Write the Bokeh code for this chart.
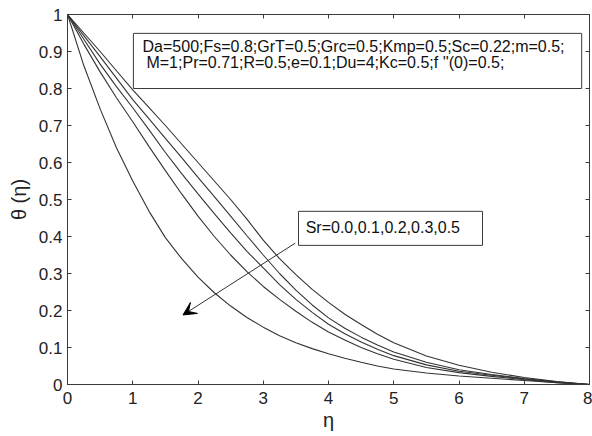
from bokeh.plotting import figure
from bokeh.models import (LinearAxis, FixedTicker, CustomJSTickFormatter, Range1d,
                          Label, BoxAnnotation, Arrow, VeeHead)
from bokeh.embed import file_html
from bokeh.resources import INLINE

# ---- data ----
eta = [0, 0.25, 0.5, 0.75, 1, 1.25, 1.5, 1.75, 2, 2.25, 2.5, 2.75, 3, 3.25, 3.5, 3.75,
       4, 4.25, 4.5, 4.75, 5, 5.5, 6, 6.5, 7, 7.5, 8]
sr_values = [0.0, 0.1, 0.2, 0.3, 0.5]
theta_sr00 = [1.0, 0.95, 0.90, 0.848, 0.796, 0.748, 0.70, 0.65, 0.60, 0.55, 0.50, 0.447, 0.39, 0.34, 0.297, 0.257,
              0.222, 0.19, 0.162, 0.136, 0.113, 0.077, 0.052, 0.033, 0.019, 0.008, 0.0]
theta_sr01 = [1.0, 0.943, 0.886, 0.828, 0.77, 0.718, 0.665, 0.613, 0.56, 0.508, 0.455, 0.402, 0.35, 0.30, 0.255, 0.215,
              0.18, 0.152, 0.128, 0.107, 0.088, 0.060, 0.040, 0.027, 0.016, 0.007, 0.0]
theta_sr02 = [1.0, 0.933, 0.866, 0.805, 0.748, 0.688, 0.627, 0.57, 0.515, 0.462, 0.41, 0.36, 0.315, 0.27, 0.23, 0.195,
              0.163, 0.137, 0.115, 0.095, 0.078, 0.053, 0.036, 0.025, 0.015, 0.006, 0.0]
theta_sr03 = [1.0, 0.92, 0.845, 0.775, 0.71, 0.643, 0.578, 0.515, 0.455, 0.40, 0.35, 0.305, 0.265, 0.23, 0.198, 0.168,
              0.142, 0.12, 0.100, 0.083, 0.068, 0.046, 0.032, 0.022, 0.013, 0.005, 0.0]
theta_sr05 = [1.0, 0.862, 0.745, 0.64, 0.55, 0.468, 0.397, 0.34, 0.29, 0.248, 0.212, 0.181, 0.155, 0.132, 0.113, 0.097,
              0.083, 0.071, 0.060, 0.050, 0.042, 0.031, 0.023, 0.017, 0.011, 0.005, 0.0]
series = [theta_sr00, theta_sr01, theta_sr02, theta_sr03, theta_sr05]

x_ticks = [0, 1, 2, 3, 4, 5, 6, 7, 8]
y_ticks = [0, 0.1, 0.2, 0.3, 0.4, 0.5, 0.6, 0.7, 0.8, 0.9, 1.0]

params_line1 = "Da=500;Fs=0.8;GrT=0.5;Grc=0.5;Kmp=0.5;Sc=0.22;m=0.5;"
params_line2 = "M=1;Pr=0.71;R=0.5;e=0.1;Du=4;Kc=0.5;f ''(0)=0.5;"
sr_text = "Sr=0.0,0.1,0.2,0.3,0.5"

FONT = "Liberation Sans"
AX = "#3a3a3a"

p = figure(width=592, height=436, output_backend="svg", toolbar_location=None,
           x_range=Range1d(0, 8), y_range=Range1d(0, 1),
           min_border_left=67, min_border_right=3, min_border_top=14, min_border_bottom=52)
p.background_fill_color = "white"
p.border_fill_color = "white"
p.grid.visible = False
p.outline_line_color = AX
p.outline_line_width = 1

fmt = CustomJSTickFormatter(code="return tick.toFixed(1).replace(/\\.0$/, '');")

for ax in p.xaxis:
    ax.ticker = FixedTicker(ticks=x_ticks)
    ax.axis_label = "η"
    ax.major_label_standoff = 7
    ax.axis_label_standoff = 2
for ax in p.yaxis:
    ax.ticker = FixedTicker(ticks=y_ticks)
    ax.formatter = fmt
    ax.axis_label = "θ (η)"
    ax.major_label_standoff = 5
    ax.axis_label_standoff = 6

for ax in list(p.xaxis) + list(p.yaxis):
    ax.major_tick_in = 4
    ax.major_tick_out = 0
    ax.minor_tick_line_color = None
    ax.axis_line_color = AX
    ax.major_tick_line_color = AX
    ax.major_label_text_font = FONT
    ax.major_label_text_font_size = "17px"
    ax.major_label_text_color = "#222222"
    ax.axis_label_text_font = FONT
    ax.axis_label_text_font_size = "20px"
    ax.axis_label_text_font_style = "normal"
    ax.axis_label_text_color = "#222222"

# mirrored tick axes (box on), no labels
blank = CustomJSTickFormatter(code="return '';")
top = LinearAxis(ticker=FixedTicker(ticks=x_ticks), formatter=blank,
                 major_tick_in=4, major_tick_out=0, minor_tick_line_color=None,
                 axis_line_color=AX, major_tick_line_color=AX, major_label_standoff=0)
right = LinearAxis(ticker=FixedTicker(ticks=y_ticks), formatter=blank,
                   major_tick_in=4, major_tick_out=0, minor_tick_line_color=None,
                   axis_line_color=AX, major_tick_line_color=AX, major_label_standoff=0)
p.add_layout(top, "above")
p.add_layout(right, "right")

for ys in series:
    p.line(eta, ys, line_color="#333333", line_width=1.1)

# parameter box
p.add_layout(BoxAnnotation(left=1.01, right=7.88, bottom=0.80, top=0.949,
                           fill_color="white", fill_alpha=1.0,
                           line_color=AX, line_alpha=1.0, line_width=1, level="annotation"))
p.add_layout(Label(x=1.15, y=0.914, text=params_line1, text_font=FONT, level="overlay",
                   text_font_size="16px", text_baseline="middle", text_color="#111111"))
p.add_layout(Label(x=1.21, y=0.870, text=params_line2, text_font=FONT, level="overlay",
                   text_font_size="16px", text_baseline="middle", text_color="#111111"))

# Sr box
p.add_layout(BoxAnnotation(left=3.54, right=6.36, bottom=0.376, top=0.468,
                           fill_color="white", fill_alpha=1.0,
                           line_color=AX, line_alpha=1.0, line_width=1, level="annotation"))
p.add_layout(Label(x=3.65, y=0.425, text=sr_text, text_font=FONT, level="overlay",
                   text_font_size="16px", text_baseline="middle", text_color="#111111"))

p.add_layout(Arrow(x_start=3.49, y_start=0.382, x_end=1.77, y_end=0.188,
                   line_color="#333333", line_width=1, level="overlay",
                   end=VeeHead(size=13, fill_color="black", line_color="black")))

open("out.html", "w").write(file_html(p, INLINE))
